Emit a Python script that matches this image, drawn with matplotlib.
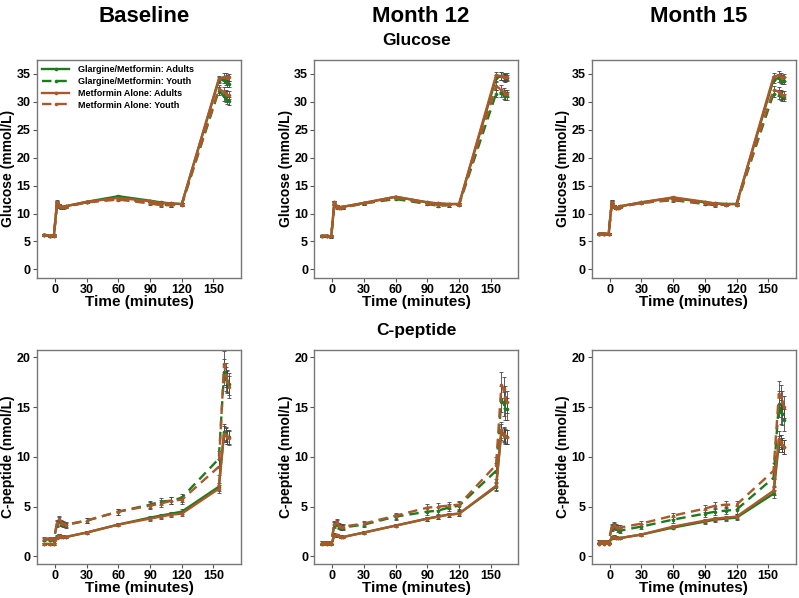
import matplotlib
matplotlib.use("Agg")
import matplotlib.pyplot as plt
import numpy as np

plt.rcParams['font.family'] = ['Liberation Sans', 'DejaVu Sans']
plt.rcParams['font.weight'] = 'bold'

# sampling times during the clamp (minutes)
times = [-10, -5, -1, 2, 4, 6, 8, 10, 30, 60, 90, 100, 110, 120, 155, 160, 162, 163, 165]

visits = ["Baseline", "Month 12", "Month 15"]
groups = ["Glargine/Metformin: Adults", "Glargine/Metformin: Youth",
          "Metformin Alone: Adults", "Metformin Alone: Youth"]

# glucose (mmol/L)
glu_bl_ga = [6.2, 6.0, 6.1, 12.1, 11.5, 11.2, 11.2, 11.3, 12.1, 13.1, 12.3, 12.0, 11.8, 11.7, 33.9, 34.0, 33.6, 33.3, 33.2]
glu_bl_gy = [6.1, 6.0, 6.0, 11.9, 11.4, 11.1, 11.1, 11.2, 12.0, 12.7, 11.9, 11.6, 11.5, 11.6, 32.0, 31.0, 30.6, 30.3, 30.2]
glu_bl_ma = [6.2, 6.0, 6.1, 12.0, 11.5, 11.2, 11.2, 11.3, 12.1, 12.8, 12.2, 11.9, 11.8, 11.7, 34.1, 34.4, 34.5, 34.3, 34.4]
glu_bl_my = [6.1, 6.0, 6.0, 11.8, 11.3, 11.1, 11.1, 11.2, 12.0, 12.5, 11.8, 11.5, 11.5, 11.6, 32.3, 31.8, 31.5, 31.2, 31.2]

glu_m12_ga = [6.0, 6.0, 5.9, 12.0, 11.3, 11.1, 11.1, 11.2, 11.9, 13.0, 12.0, 11.8, 11.7, 11.7, 34.3, 34.6, 34.4, 34.2, 34.3]
glu_m12_gy = [6.0, 6.0, 5.9, 11.8, 11.1, 11.0, 11.0, 11.1, 11.8, 12.6, 11.7, 11.4, 11.5, 11.6, 31.5, 31.6, 31.2, 31.0, 31.0]
glu_m12_ma = [6.0, 6.0, 5.9, 12.0, 11.3, 11.1, 11.1, 11.2, 11.9, 13.0, 12.0, 11.8, 11.7, 11.7, 34.8, 34.6, 34.5, 34.4, 34.5]
glu_m12_my = [6.0, 6.0, 5.9, 11.9, 11.2, 11.0, 11.0, 11.1, 11.8, 12.8, 11.8, 11.5, 11.5, 11.6, 32.8, 32.2, 31.8, 31.5, 31.5]

glu_m15_ga = [6.4, 6.4, 6.3, 12.1, 11.3, 11.0, 11.1, 11.3, 12.0, 12.8, 12.0, 11.8, 11.7, 11.7, 34.0, 34.3, 34.0, 33.8, 33.8]
glu_m15_gy = [6.4, 6.4, 6.3, 11.9, 11.2, 11.0, 11.0, 11.2, 11.9, 12.4, 11.7, 11.5, 11.6, 11.6, 31.5, 31.3, 31.0, 30.8, 30.8]
glu_m15_ma = [6.4, 6.4, 6.3, 12.1, 11.3, 11.0, 11.1, 11.3, 12.0, 12.9, 12.1, 11.8, 11.7, 11.7, 34.5, 34.8, 34.5, 34.3, 34.4]
glu_m15_my = [6.4, 6.4, 6.3, 11.9, 11.2, 11.0, 11.0, 11.2, 11.9, 12.5, 11.8, 11.6, 11.6, 11.6, 32.2, 31.8, 31.5, 31.2, 31.2]

# C-peptide (nmol/L)
cp_bl_ga = [1.25, 1.25, 1.25, 2.0, 2.1, 2.05, 2.0, 1.95, 2.4, 3.2, 3.9, 4.1, 4.3, 4.5, 7.0, 12.5, 12.3, 12.0, 12.0]
cp_bl_gy = [1.7, 1.7, 1.7, 3.3, 3.7, 3.3, 3.2, 3.15, 3.6, 4.5, 5.2, 5.5, 5.6, 5.9, 9.8, 18.5, 17.8, 17.5, 17.3]
cp_bl_ma = [1.25, 1.25, 1.25, 1.9, 2.1, 2.0, 2.0, 1.95, 2.4, 3.2, 3.8, 4.0, 4.2, 4.3, 6.8, 12.3, 12.2, 12.0, 11.9]
cp_bl_my = [1.8, 1.8, 1.8, 3.4, 3.8, 3.4, 3.3, 3.2, 3.6, 4.5, 5.1, 5.3, 5.6, 5.7, 9.0, 19.3, 18.2, 17.6, 17.0]

cp_m12_ga = [1.2, 1.2, 1.2, 2.2, 2.15, 2.05, 2.0, 1.95, 2.4, 3.1, 3.8, 4.0, 4.2, 4.3, 7.0, 12.5, 12.2, 12.0, 12.0]
cp_m12_gy = [1.4, 1.4, 1.4, 3.2, 3.4, 3.0, 2.9, 2.9, 3.2, 4.0, 4.5, 4.6, 4.9, 5.1, 8.6, 15.8, 15.3, 14.8, 14.8]
cp_m12_ma = [1.2, 1.2, 1.2, 2.1, 2.15, 2.05, 2.0, 1.95, 2.4, 3.1, 3.8, 4.0, 4.2, 4.3, 7.1, 12.7, 12.3, 12.1, 12.0]
cp_m12_my = [1.4, 1.4, 1.4, 3.3, 3.5, 3.1, 3.0, 3.0, 3.3, 4.1, 4.9, 5.0, 5.1, 5.2, 9.2, 17.2, 16.8, 16.0, 15.5]

cp_m15_ga = [1.3, 1.3, 1.3, 1.9, 2.0, 1.9, 1.85, 1.85, 2.2, 2.9, 3.5, 3.7, 3.8, 3.9, 6.3, 11.3, 11.5, 11.2, 11.0]
cp_m15_gy = [1.5, 1.5, 1.5, 2.9, 3.1, 2.9, 2.7, 2.6, 3.0, 3.7, 4.3, 4.5, 4.6, 4.7, 7.9, 15.3, 14.5, 14.3, 13.7]
cp_m15_ma = [1.3, 1.3, 1.3, 1.9, 2.0, 1.9, 1.85, 1.85, 2.2, 3.0, 3.6, 3.8, 3.9, 4.0, 6.6, 11.8, 11.5, 11.2, 11.0]
cp_m15_my = [1.5, 1.5, 1.5, 3.0, 3.2, 3.0, 2.9, 2.9, 3.3, 4.1, 4.8, 5.1, 5.2, 5.2, 8.6, 16.3, 16.0, 15.5, 15.0]

# standard errors (approximate)
glu_se_adult = [0.15, 0.15, 0.15, 0.3, 0.2, 0.15, 0.15, 0.15, 0.15, 0.2, 0.2, 0.2, 0.2, 0.2, 0.6, 0.7, 0.6, 0.6, 0.6]
glu_se_youth = [0.2, 0.2, 0.2, 0.35, 0.25, 0.2, 0.2, 0.2, 0.2, 0.25, 0.25, 0.25, 0.25, 0.25, 0.7, 0.8, 0.7, 0.7, 0.7]
cp_se_adult = [0.08, 0.08, 0.08, 0.15, 0.15, 0.12, 0.12, 0.12, 0.12, 0.15, 0.2, 0.2, 0.2, 0.25, 0.4, 0.8, 0.7, 0.7, 0.7]
cp_se_youth = [0.15, 0.15, 0.15, 0.3, 0.3, 0.25, 0.25, 0.25, 0.25, 0.3, 0.35, 0.35, 0.35, 0.4, 0.8, 1.3, 1.2, 1.1, 1.1]

green = "#1f7a1f"
brown = "#a9592a"
styles = [(green, "-"), (green, "--"), (brown, "-"), (brown, "--")]

glucose = [[glu_bl_ga, glu_bl_gy, glu_bl_ma, glu_bl_my],
           [glu_m12_ga, glu_m12_gy, glu_m12_ma, glu_m12_my],
           [glu_m15_ga, glu_m15_gy, glu_m15_ma, glu_m15_my]]
cpeptide = [[cp_bl_ga, cp_bl_gy, cp_bl_ma, cp_bl_my],
            [cp_m12_ga, cp_m12_gy, cp_m12_ma, cp_m12_my],
            [cp_m15_ga, cp_m15_gy, cp_m15_ma, cp_m15_my]]


def draw_panel(ax, series, se_adult, se_youth, ylim, yticks, ylabel):
    for i, (vals, (color, ls)) in enumerate(zip(series, styles)):
        se = se_adult if i % 2 == 0 else se_youth
        ax.errorbar(times, vals, yerr=se, fmt="none", ecolor="#444444",
                    elinewidth=0.6, capsize=1.3, capthick=0.6, zorder=2)
        line, = ax.plot(times, vals, color=color, linestyle=ls, lw=1.7,
                        marker="o", markersize=1.6, label=groups[i], zorder=3)
        if ls == "--":
            line.set_dashes((4, 2.5))
    ax.set_xlim(-17, 176)
    ax.set_ylim(*ylim)
    ax.set_xticks([0, 30, 60, 90, 120, 150])
    ax.set_yticks(yticks)
    ax.set_xlabel("Time (minutes)", fontsize=11, fontweight="bold", labelpad=-0.5)
    ax.set_ylabel(ylabel, fontsize=10, fontweight="bold", labelpad=1)
    ax.tick_params(labelsize=9, length=3, width=0.8, pad=1.5, color="#555555")
    for sp in ax.spines.values():
        sp.set_color("#777777")
        sp.set_linewidth(1)


fig = plt.figure(figsize=(7.99, 5.98), dpi=100)
lefts = [0.0463, 0.3934, 0.7406]
w = 0.2553

for c in range(3):
    ax = fig.add_axes([lefts[c], 0.5356, w, 0.364])
    draw_panel(ax, glucose[c], glu_se_adult, glu_se_youth, (-1.5, 37.5),
               [0, 5, 10, 15, 20, 25, 30, 35], "Glucose (mmol/L)")
    if c == 0:
        ax.legend(loc="upper left", bbox_to_anchor=(0, 1), frameon=False,
                  fontsize=6.5, handlelength=3, handletextpad=0.9,
                  labelspacing=0.3, borderaxespad=0, borderpad=0.6)

    ax = fig.add_axes([lefts[c], 0.057, w, 0.358])
    draw_panel(ax, cpeptide[c], cp_se_adult, cp_se_youth, (-0.75, 20.75),
               [0, 5, 10, 15, 20], "C-peptide (nmol/L)")

for c, title in enumerate(visits):
    fig.text(lefts[c] + w / 2 + 0.006, 0.972, title, ha="center", va="center",
             fontsize=16, fontweight="bold")

fig.text(0.521, 0.925, "Glucose", ha="center", va="baseline", fontsize=12.5, fontweight="bold")
fig.text(0.521, 0.44, "C-peptide", ha="center", va="baseline", fontsize=12.5, fontweight="bold")

fig.savefig("out.png", dpi=100)
